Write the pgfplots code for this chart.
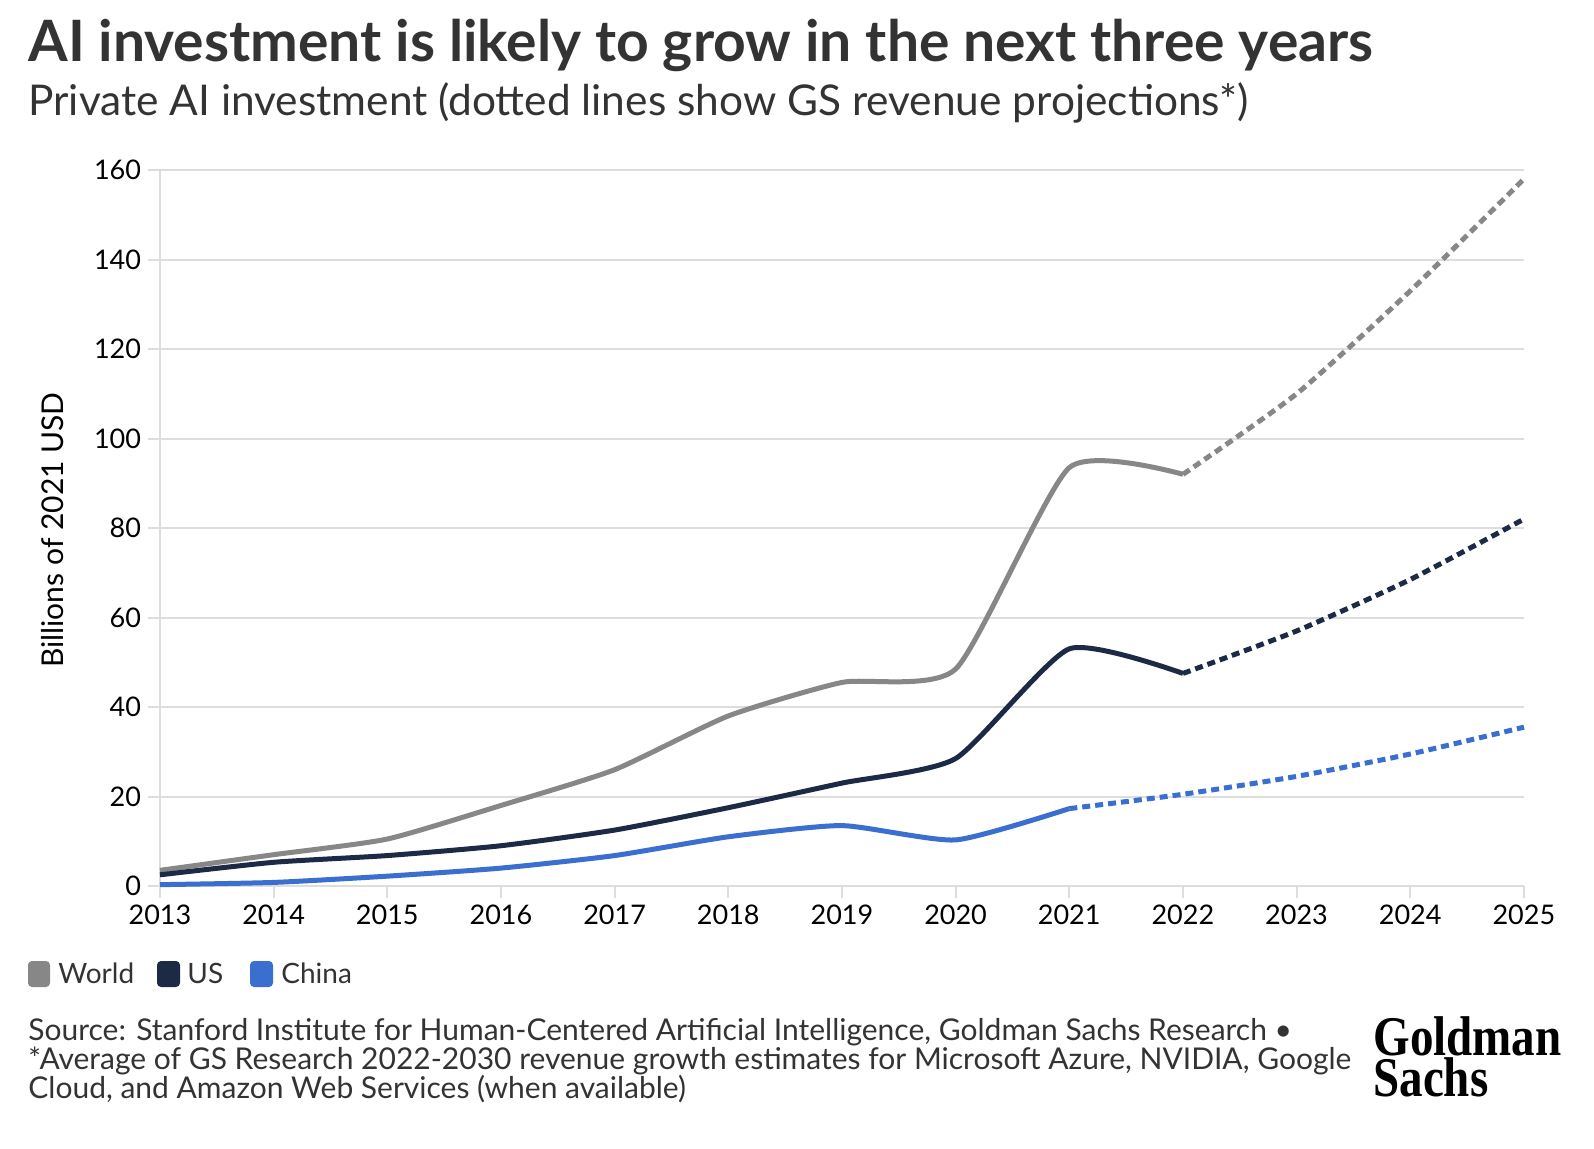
\documentclass[border=0pt]{standalone}
\usepackage{pgfplots}
\pgfplotsset{compat=1.18}
\usepackage{fontspec}
\setmainfont{Lato}
\newfontfamily\logofont{Liberation Serif}

\definecolor{worldc}{HTML}{878787}
\definecolor{usc}{HTML}{1C2A45}
\definecolor{chinac}{HTML}{3A6FD0}
\definecolor{gridc}{HTML}{DDDDDD}
\definecolor{titlec}{HTML}{333333}

\begin{document}
\begin{tikzpicture}[x=1pt,y=1pt]
\path[use as bounding box] (0,0) rectangle (797,574);

% titles
\node[anchor=base west, inner sep=0, text=titlec] at (14,543)
  {\fontsize{28.5}{31}\selectfont\bfseries AI investment is likely to grow in the next three years};
\node[anchor=base west, inner sep=0, text=titlec] at (14,516)
  {\fontsize{21.2}{24}\selectfont Private AI investment (dotted lines show GS revenue projections*)};

\begin{axis}[
    at={(80pt,131pt)}, anchor=south west,
    scale only axis, width=682pt, height=358pt,
    xmin=2013, xmax=2025, ymin=0, ymax=160,
    xtick={2013,2014,...,2025},
    ytick={0,20,...,160},
    axis x line*=bottom, axis y line*=left,
    axis line style={gridc, line width=1pt, -},
    ymajorgrids, grid style={gridc, line width=1pt},
    tick align=outside, major tick length=6pt,
    tick style={gridc, line width=1pt},
    ticklabel style={font=\fontsize{13.5}{15}\selectfont, text=black},
    /pgf/number format/assume math mode=true,
    x tick label style={/pgf/number format/1000 sep={}},
    clip=false,
    every axis plot/.append style={line width=2.5pt, smooth, tension=0.35},
]
% World
\addplot[worldc] coordinates {(2013,3.5) (2014,7) (2015,10.5) (2016,18) (2017,26)
  (2018,38) (2019,45.5) (2020,48.5) (2021,93.5) (2022,92)};
\addplot[worldc, dash pattern=on 4pt off 2.5pt] coordinates {(2022,92) (2023,110) (2024,133) (2025,158)};
% US
\addplot[usc] coordinates {(2013,2.5) (2014,5.3) (2015,6.8) (2016,9) (2017,12.5)
  (2018,17.5) (2019,23) (2020,28.5) (2021,53) (2022,47.5)};
\addplot[usc, dash pattern=on 4pt off 2.5pt] coordinates {(2022,47.5) (2023,57) (2024,68.5) (2025,82)};
% China
\addplot[chinac] coordinates {(2013,0.3) (2014,0.8) (2015,2.2) (2016,4) (2017,6.8)
  (2018,11) (2019,13.5) (2020,10.3) (2021,17.3)};
\addplot[chinac, dash pattern=on 4pt off 2.5pt] coordinates {(2021,17.3) (2022,20.5) (2023,24.5) (2024,29.5) (2025,35.5)};
\end{axis}

% y label
\node[rotate=90, inner sep=0] at (26.5,309) {\fontsize{15}{17}\selectfont Billions of 2021 USD};

% legend
\fill[worldc, rounded corners=2pt] (14,80.5) rectangle (25,93.5);
\node[anchor=base west, inner sep=0, text=titlec] at (29,82.5) {\fontsize{14}{16}\selectfont World};
\fill[usc, rounded corners=2pt] (78.5,80.5) rectangle (90,93.5);
\node[anchor=base west, inner sep=0, text=titlec] at (93.5,82.5) {\fontsize{14}{16}\selectfont US};
\fill[chinac, rounded corners=2pt] (125,80.5) rectangle (136.5,93.5);
\node[anchor=base west, inner sep=0, text=titlec] at (140.5,82.5) {\fontsize{14}{16}\selectfont China};

% footer
\node[anchor=base west, inner sep=0, text=titlec] at (14,54)
  {\fontsize{15}{15}\selectfont Source: Stanford Institute for Human-Centered Artificial Intelligence, Goldman Sachs Research •};
\node[anchor=base west, inner sep=0, text=titlec] at (14,39.5)
  {\fontsize{15}{15}\selectfont *Average of GS Research 2022-2030 revenue growth estimates for Microsoft Azure, NVIDIA, Google};
\node[anchor=base west, inner sep=0, text=titlec] at (14,25)
  {\fontsize{15}{15}\selectfont Cloud, and Amazon Web Services (when available)};

% logo
\node[anchor=north west, inner sep=0, align=left,
      font={\logofont\bfseries\fontsize{28}{19}\selectfont}] at (686.5,66)
  {\scalebox{0.84}[1]{Goldman}\\\scalebox{0.84}[1]{Sachs}};
\end{tikzpicture}
\end{document}
